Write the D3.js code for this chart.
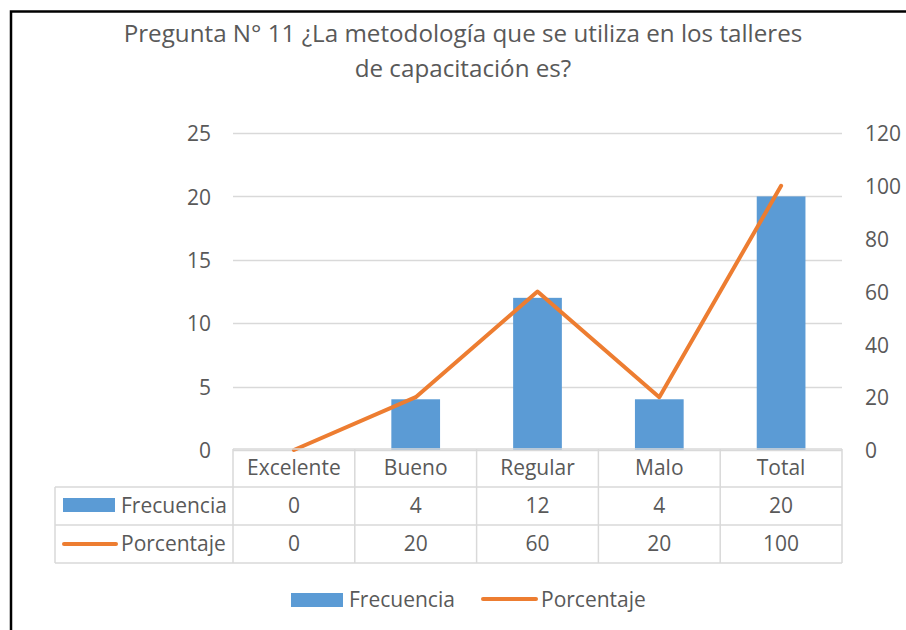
<!DOCTYPE html>
<html><head><meta charset="utf-8">
<script src="https://cdn.jsdelivr.net/npm/d3@7/dist/d3.min.js"></script>
<style>body{margin:0;background:#fff}svg{display:block}text{font-family:"Open Sans","Noto Sans",sans-serif;fill:#595959}</style>
</head><body><div id="c"></div>
<script>
const categories = ["Excelente","Bueno","Regular","Malo","Total"];
const frecuencia = [0,4,12,4,20];
const porcentaje = [0,20,60,20,100];
const leftTicks = [0,5,10,15,20,25];
const rightTicks = [0,20,40,60,80,100,120];
const titleLines = ["Pregunta N° 11 ¿La metodología que se utiliza en los talleres","de capacitación es?"];
const seriesNames = ["Frecuencia","Porcentaje"];

const W=906,H=630;
const svg=d3.select("#c").append("svg").attr("width",W).attr("height",H);
svg.append("rect").attr("x",0).attr("y",0).attr("width",W).attr("height",H).attr("fill","#fff");
svg.append("path").attr("d",`M11,${H+5}V11.5H${W+5}`).attr("fill","none").attr("stroke","#000").attr("stroke-width",2.5);

const L=233,R=842,T=133,B=450;
const x=d3.scaleBand().domain(categories).range([L,R]).padding(0);
const yL=d3.scaleLinear().domain([0,25]).range([B,T]);
const yR=d3.scaleLinear().domain([0,120]).range([B,T]);

// title
svg.append("g").selectAll("text").data(titleLines).join("text")
 .attr("x",463).attr("y",(d,i)=>42+i*35).attr("text-anchor","middle")
 .style("font-size","24.2px").text(d=>d);

// gridlines
svg.append("g").selectAll("line").data(leftTicks).join("line")
 .attr("x1",L).attr("x2",R).attr("y1",d=>Math.round(yL(d))+0.5).attr("y2",d=>Math.round(yL(d))+0.5)
 .attr("stroke","#d9d9d9").attr("stroke-width",1.3);

const fs="21px";
// axes
const ga=svg.append("g").attr("transform",`translate(${L-22},1)`)
 .call(d3.axisLeft(yL).tickValues(leftTicks).tickSize(0).tickPadding(0));
const gb=svg.append("g").attr("transform",`translate(${R+23},1)`)
 .call(d3.axisRight(yR).tickValues(rightTicks).tickSize(0).tickPadding(0));
[ga,gb].forEach(g=>{g.select(".domain").remove();g.selectAll("text").style("font-size",fs).attr("fill","#595959").style("font-family",'"Open Sans","Noto Sans",sans-serif');});

// bars
const bw=x.bandwidth()*0.4;
svg.append("g").selectAll("rect").data(frecuencia).join("rect")
 .attr("x",(d,i)=>x(categories[i])+x.bandwidth()/2-bw/2)
 .attr("y",d=>yL(d)).attr("width",bw).attr("height",d=>B-yL(d))
 .attr("fill","#5B9BD5");

// line
const line=d3.line().x((d,i)=>x(categories[i])+x.bandwidth()/2).y(d=>yR(d));
svg.append("path").datum(porcentaje).attr("d",line).attr("fill","none")
 .attr("stroke","#ED7D31").attr("stroke-width",4).attr("stroke-linejoin","round").attr("stroke-linecap","round");

// data table
const rowY=[449,487,525,563];
const tL=55;
const tg=svg.append("g").attr("stroke","#d9d9d9").attr("stroke-width",1.5);
tg.append("line").attr("x1",L).attr("x2",R).attr("y1",rowY[0]).attr("y2",rowY[0]);
for(let r=1;r<4;r++) tg.append("line").attr("x1",tL).attr("x2",R).attr("y1",rowY[r]).attr("y2",rowY[r]);
tg.append("line").attr("x1",tL).attr("x2",tL).attr("y1",rowY[1]).attr("y2",rowY[3]);
const bounds=categories.map(c=>x(c)).concat([R]);
bounds.forEach(b=>tg.append("line").attr("x1",b).attr("x2",b).attr("y1",rowY[0]).attr("y2",rowY[3]));

svg.append("g").selectAll("text").data(categories).join("text")
 .attr("x",d=>x(d)+x.bandwidth()/2).attr("y",(rowY[0]+rowY[1])/2+7).attr("text-anchor","middle").style("font-size",fs).text(d=>d);
[frecuencia,porcentaje].forEach((arr,r)=>{
 svg.append("g").selectAll("text").data(arr).join("text")
  .attr("x",(d,i)=>x(categories[i])+x.bandwidth()/2).attr("y",(rowY[r+1]+rowY[r+2])/2+7)
  .attr("text-anchor","middle").style("font-size",fs).text(d=>d);
});
// table legend keys
svg.append("rect").attr("x",63).attr("y",498).attr("width",52).attr("height",14).attr("fill","#5B9BD5");
svg.append("line").attr("x1",64).attr("x2",116).attr("y1",544).attr("y2",544).attr("stroke","#ED7D31").attr("stroke-width",4).attr("stroke-linecap","round");
svg.append("text").attr("x",121).attr("y",513).style("font-size",fs).text(seriesNames[0]);
svg.append("text").attr("x",121).attr("y",551).style("font-size",fs).text(seriesNames[1]);

// bottom legend
svg.append("rect").attr("x",291).attr("y",593).attr("width",52).attr("height",14).attr("fill","#5B9BD5");
svg.append("text").attr("x",349).attr("y",607).style("font-size",fs).text(seriesNames[0]);
svg.append("line").attr("x1",483).attr("x2",536).attr("y1",599).attr("y2",599).attr("stroke","#ED7D31").attr("stroke-width",4).attr("stroke-linecap","round");
svg.append("text").attr("x",541).attr("y",607).style("font-size",fs).text(seriesNames[1]);
</script></body></html>
